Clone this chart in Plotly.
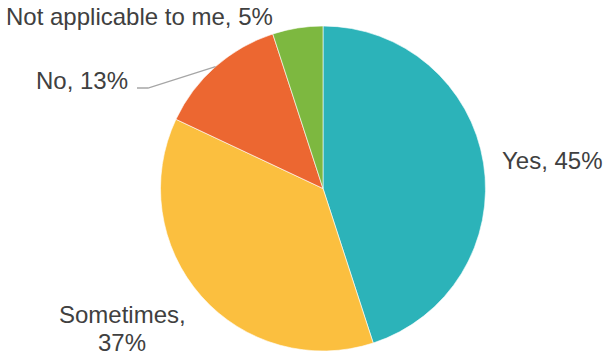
import math
import plotly.graph_objects as go

# Survey responses, clockwise from 12 o'clock
categories = ["Yes", "Sometimes", "No", "Not applicable to me"]
shares = [45, 37, 13, 5]
colors = ["#2CB3B9", "#FBBF3F", "#EC6731", "#7DB840"]

W, H = 606, 353
CX, CY, R = 323, 188.5, 162.5  # pie centre and radius in pixels

fig = go.Figure(go.Pie(
    labels=categories,
    values=shares,
    sort=False,
    direction="clockwise",
    rotation=0,
    marker=dict(colors=colors, line=dict(color="white", width=0.6)),
    textinfo="none",
    hoverinfo="label+percent",
    domain=dict(x=[(CX - R) / W, (CX + R) / W], y=[1 - (CY + R) / H, 1 - (CY - R) / H]),
    showlegend=False,
))


def px(x, y):
    return x / W, 1 - y / H


def edge_point(idx):
    """Point on the rim at the angular middle of slice idx."""
    total = sum(shares)
    start = sum(shares[:idx]) / total
    mid = (start + shares[idx] / total / 2) * 2 * math.pi
    return CX + R * math.sin(mid), CY - R * math.cos(mid)


label_font = dict(family="Liberation Sans, Arial, sans-serif", size=24, color="#404040")

# Label placements: (pixel x, pixel y, xanchor); "Sometimes" is split over two lines
placements = {
    "Yes": [(500, 160, "left")],
    "Sometimes": [(122, 314, "center"), (122, 342, "center")],
    "No": [(130, 81, "right")],
    "Not applicable to me": [(275, 16, "right")],
}

annotations = []
for name, val in zip(categories, shares):
    spots = placements[name]
    texts = [f"{name},", f"{val}%"] if len(spots) == 2 else [f"{name}, {val}%"]
    for (x, y, anchor), text in zip(spots, texts):
        ax, ay = px(x, y)
        annotations.append(dict(
            x=ax, y=ay, xref="paper", yref="paper", text=text, showarrow=False,
            xanchor=anchor, yanchor="middle", align="center", font=label_font,
        ))

# Leader line for the "No" slice
ex, ey = edge_point(categories.index("No"))
p0 = px(137, 88)
p1 = px(148, 88)
p2 = px(ex, ey)
fig.add_shape(
    type="path", xref="paper", yref="paper",
    path=f"M {p0[0]} {p0[1]} L {p1[0]} {p1[1]} L {p2[0]} {p2[1]}",
    line=dict(color="#A6A6A6", width=1.3),
)

fig.update_layout(
    width=W, height=H,
    margin=dict(l=0, r=0, t=0, b=0),
    paper_bgcolor="white",
    plot_bgcolor="white",
    annotations=annotations,
)

fig.write_html("out.html")
